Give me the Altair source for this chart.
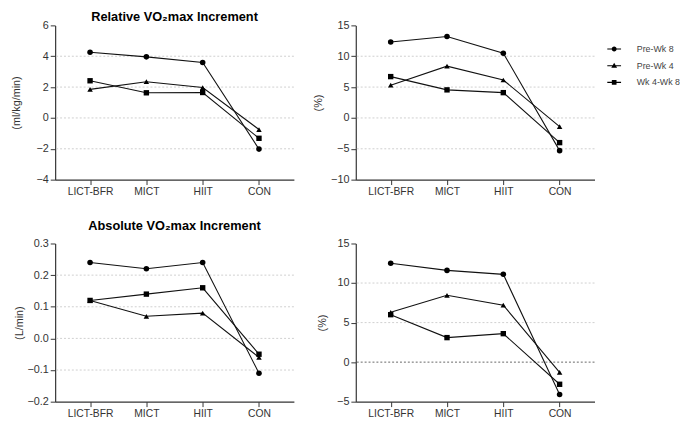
import altair as alt
import pandas as pd

groups = ["LICT-BFR", "MICT", "HIIT", "CON"]
series = ["Pre-Wk 8", "Pre-Wk 4", "Wk 4-Wk 8"]

# Relative VO2max increment (ml/kg/min)
rel_pre8 = [4.26, 3.96, 3.59, -2.02]
rel_pre4 = [1.85, 2.35, 1.97, -0.75]
rel_w48 = [2.41, 1.63, 1.65, -1.32]
# Relative VO2max increment (%)
relpct_pre8 = [12.3, 13.2, 10.5, -5.3]
relpct_pre4 = [5.3, 8.4, 6.15, -1.4]
relpct_w48 = [6.7, 4.55, 4.1, -4.0]
# Absolute VO2max increment (L/min)
abs_pre8 = [0.24, 0.22, 0.24, -0.11]
abs_pre4 = [0.12, 0.07, 0.08, -0.06]
abs_w48 = [0.12, 0.14, 0.16, -0.05]
# Absolute VO2max increment (%)
abspct_pre8 = [12.5, 11.6, 11.1, -4.1]
abspct_pre4 = [6.3, 8.45, 7.2, -1.3]
abspct_w48 = [6.0, 3.1, 3.6, -2.8]

FONT = "Liberation Sans"

bar = "M-1,-0.075H1V0.075H-1Z"
circle_path = bar + "M-0.36,0A0.36,0.36,0,1,1,0.36,0A0.36,0.36,0,1,1,-0.36,0Z"
tri_path = bar + "M0,-0.42L0.42,0.3L-0.42,0.3Z"
square_path = bar + "M-0.34,-0.34H0.34V0.34H-0.34Z"
legend_shapes = [circle_path, tri_path, square_path]


def make_df(a, b, c):
    rows = []
    for s, vals in zip(series, [a, b, c]):
        for g, v in zip(groups, vals):
            rows.append({"group": g, "series": s, "value": v})
    return pd.DataFrame(rows)


def panel(df, domain, ticks, grid_vals, grid_colors, ytitle, title_pad, fmt,
          height, title=None, title_offset=2, legend=False):
    x = alt.X(
        "group:N", sort=groups,
        scale=alt.Scale(type="point", padding=0.62),
        axis=alt.Axis(title=None, labelAngle=0, labelFont=FONT, labelFontSize=10.5,
                      labelColor="#333", domainColor="#333", tickColor="#333",
                      tickSize=5, labelPadding=2, grid=False, domainWidth=1.2),
    )
    y = alt.Y(
        "value:Q",
        scale=alt.Scale(domain=domain, nice=False, zero=False),
        axis=alt.Axis(values=ticks, format=fmt, grid=False, title=ytitle,
                      titleFont=FONT, titleFontSize=11, titleFontWeight="normal",
                      titleColor="#333", titlePadding=title_pad,
                      labelFont=FONT, labelFontSize=11, labelColor="#333",
                      domainColor="#333", tickColor="#333", tickSize=5,
                      labelPadding=2, domainWidth=1.2),
    )
    gdf = pd.DataFrame({"value": grid_vals, "c": grid_colors})
    grid = alt.Chart(gdf).mark_rule(strokeDash=[2, 2], strokeWidth=1).encode(
        y=y, color=alt.Color("c:N", scale=None)
    )
    line = alt.Chart(df).mark_line(color="#111", strokeWidth=1.1).encode(
        x=x, y=y, detail="series:N"
    )
    pts = alt.Chart(df).mark_point(filled=True, color="black", opacity=1).encode(
        x=x, y=y,
        shape=alt.Shape("series:N", sort=series,
                        scale=alt.Scale(domain=series,
                                        range=["circle", "triangle-up", "square"]),
                        legend=None),
        size=alt.Size("series:N", sort=series,
                      scale=alt.Scale(domain=series, range=[32, 30, 40]),
                      legend=None),
    )
    layers = [grid, line, pts]
    if legend:
        leg = alt.Legend(
            orient="none", legendX=255, legendY=16, title=None, padding=0,
            labelFont=FONT, labelFontSize=9, labelColor="#444",
            symbolSize=196, symbolFillColor="black", symbolOpacity=1,
            labelOffset=15, rowPadding=3,
        )
        legl = alt.Chart(df).mark_point(filled=True, color="black",
                                        opacity=1, size=0).encode(
            x=x, y=y,
            shape=alt.Shape("series:N", sort=series,
                            scale=alt.Scale(domain=series, range=legend_shapes),
                            legend=leg),
        )
        layers.append(legl)
    props = dict(width=243, height=height)
    if title:
        props["title"] = alt.TitleParams(
            text=title, font=FONT, fontSize=13, fontWeight="bold", color="black",
            anchor="middle", frame="group", offset=title_offset)
    ch = alt.layer(*layers).properties(**props)
    if legend:
        ch = ch.resolve_scale(shape="independent")
    return ch


LG = "#cfcfcf"
tl = panel(make_df(rel_pre8, rel_pre4, rel_w48), [-4, 6], [-4, -2, 0, 2, 4, 6],
           [4, 2, 0, -2], [LG] * 4, "(ml/kg/min)", 15, "d", 157,
           title="Relative VO₂max Increment", title_offset=-5)
tr = panel(make_df(relpct_pre8, relpct_pre4, relpct_w48), [-10, 15],
           [-10, -5, 0, 5, 10, 15], [10, 5, 0, -5], [LG] * 4, "(%)", 7, "d", 157,
           legend=True)
bl = panel(make_df(abs_pre8, abs_pre4, abs_w48), [-0.2, 0.3],
           [-0.2, -0.1, 0.0, 0.1, 0.2, 0.3], [0.2, 0.1, 0.0, -0.1], [LG] * 4,
           "(L/min)", 3, ".1f", 161, title="Absolute VO₂max Increment",
           title_offset=5)
br = panel(make_df(abspct_pre8, abspct_pre4, abspct_w48), [-5, 15],
           [-5, 0, 5, 10, 15], [10, 5, 0], [LG, LG, "#666"], "(%)", 9, "d", 161)

chart = alt.concat(
    tl, tr, bl, br, columns=2, spacing={"row": 61, "column": 63},
    bounds="flush", align="all",
).resolve_scale(
    shape="independent", size="independent", x="independent", y="independent",
    color="independent",
).properties(
    padding={"left": 2, "top": 0, "right": 0, "bottom": 0}
).configure_view(stroke=None)

chart.save("out.html", embed_options={"renderer": "svg", "actions": False})
